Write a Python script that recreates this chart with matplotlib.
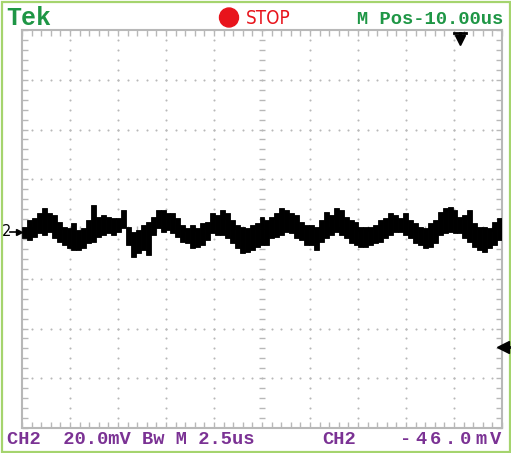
import numpy as np
import matplotlib
matplotlib.use("Agg")
import matplotlib.pyplot as plt
from matplotlib.patches import Circle, Rectangle
from matplotlib.ticker import MultipleLocator

trace_hi = [0.8, 3.6, 4.4, 6.4, 8.4, 6.4, 5.6, 2.8, 0.8, 0.4, 2.4, -0.4, 0.4, 3.6, 9.6, 4.8, 5.6, 4.8, 4.4, 4.4, 7.6, 0.8, -1.2, -0.4, 1.6,
            2.8, 4.8, 7.6, 7.6, 6.4, 6.4, 4.4, 1.6, 0.4, 1.6, 0.4, 2.4, 2.8, 6.4, 5.6, 7.6, 6.4, 3.6, 1.6, 0.8, 0.4, 1.6, 2.4, 4.8,
            3.6, 4.8, 6.4, 8.4, 7.6, 6.4, 5.6, 2.8, 1.6, 1.6, 0.8, 3.6, 6.8, 5.6, 8.4, 7.6, 4.8, 3.6, 2.8, 0.8, 0.8, 0.8, 1.6, 3.6,
            4.4, 6.4, 5.6, 4.4, 6.4, 3.6, 2.4, 0.8, 0.4, 2.4, 3.6, 6.8, 8.4, 8.8, 7.6, 4.8, 5.6, 7.6, 2.4, 0.8, 0.8, 0.4, 2.8, 4.4]
trace_lo = [-3.6, -4.4, -3.2, -1.6, -2.4, -1.2, -3.6, -5.2, -6.4, -7.6, -8.4, -8.4, -7.6, -5.6, -5.2, -3.2, -2.4, -1.6, -2.4, -1.2, 0.4, -6.4, -11.3, -9.6, -8.4,
            -10.4, -2.4, 0.4, -1.2, -0.4, -1.6, -3.2, -5.2, -5.6, -7.6, -7.2, -6.4, -4.4, -1.6, -2.4, -2.4, -3.6, -5.6, -7.6, -9.6, -9.2, -8.4, -7.2, -6.4,
            -6.4, -3.6, -3.2, -2.4, -1.2, -1.6, -3.6, -4.4, -6.4, -6.4, -8.4, -5.2, -3.6, -2.4, -1.2, -2.4, -3.6, -5.6, -6.4, -7.2, -7.2, -6.4, -5.6, -5.2,
            -3.6, -2.4, -1.2, -1.2, -2.4, -3.6, -5.6, -6.4, -7.6, -7.2, -5.6, -2.4, -1.6, -1.2, -1.6, -1.6, -3.6, -5.2, -7.2, -8.4, -9.2, -7.6, -6.4, -4.4]

volts_div = 20.0   # mV/div
time_div = 2.5     # us/div
n_hdiv, n_vdiv = 10, 8

top_left = "Tek"
top_right = "M Pos-10.00us"
status = "STOP"
bottom_left = "CH2  20.0mV Bw M 2.5us"
bottom_ch = "CH2"
bottom_val = "-46.0mV"

green = "#1e9645"
purple = "#7b3294"
red = "#e8141c"
grat = "#b8b8b8"
mono = "Liberation Mono"

W, H = 511, 453
fig = plt.figure(figsize=(W / 100, H / 100), dpi=100)
fig.patch.set_facecolor("white")

# graticule area
gx0, gx1, gy0, gy1 = 22, 502, 30, 428
ax = fig.add_axes([gx0 / W, 1 - gy1 / H, (gx1 - gx0) / W, (gy1 - gy0) / H])
xmax = n_hdiv * time_div
ymax = n_vdiv / 2 * volts_div
ax.set_xlim(0, xmax)
ax.set_ylim(-ymax, ymax)

for s in ax.spines.values():
    s.set_color(grat)
    s.set_linewidth(1.5)
ax.xaxis.set_major_locator(MultipleLocator(time_div))
ax.xaxis.set_minor_locator(MultipleLocator(time_div / 5))
ax.yaxis.set_major_locator(MultipleLocator(volts_div))
ax.yaxis.set_minor_locator(MultipleLocator(volts_div / 5))
ax.tick_params(which="both", direction="in", length=4, width=1, color=grat,
               top=True, right=True, labelbottom=False, labelleft=False)

# dotted division lines
minor_x = np.arange(0, xmax + 1e-9, time_div / 5)
minor_y = np.arange(-ymax, ymax + 1e-9, volts_div / 5)
for i in range(1, n_hdiv):
    xv = i * time_div
    if i == n_hdiv // 2:
        ax.plot(np.full(minor_y.size, xv), minor_y, ls="none", marker="_",
                ms=5, mew=1, color=grat, zorder=1)
    else:
        ax.plot(np.full(minor_y.size, xv), minor_y, ls="none", marker="o",
                ms=1.5, mew=0, color=grat, zorder=1)
for j in range(1, n_vdiv):
    yv = -ymax + j * volts_div
    if j == n_vdiv // 2:
        ax.plot(minor_x, np.full(minor_x.size, yv), ls="none", marker="|",
                ms=5, mew=1, color=grat, zorder=1)
    else:
        ax.plot(minor_x, np.full(minor_x.size, yv), ls="none", marker="o",
                ms=1.5, mew=0, color=grat, zorder=1)

# the trace
hi = np.array(trace_hi)
lo = np.array(trace_lo)
dt = xmax / len(hi)
t = (np.arange(len(hi)) + 0.5) * dt
ax.bar(t, hi - lo, bottom=lo, width=dt, color="black", edgecolor="black",
       linewidth=0.6, zorder=3)

# overlay in pixel coordinates for the scope annotations
ov = fig.add_axes([0, 0, 1, 1], zorder=5)
ov.set_xlim(0, W)
ov.set_ylim(H, 0)
ov.axis("off")
ov.patch.set_alpha(0)

ov.add_patch(Rectangle((1.5, 1.5), W - 3, H - 3, fill=False, edgecolor="#a5d46e", lw=1.6))

ov.text(6, 18, top_left, color=green, fontsize=18, fontweight="bold", family=mono, va="center")
ov.add_patch(Circle((229, 17.5), 9.5, color=red))
ov.text(246, 18, status, color=red, fontsize=13.5, family="DejaVu Sans",
        fontstretch="condensed", va="center")
ov.text(503, 19, top_right, color=green, fontsize=13.5, fontweight="bold", family=mono,
        ha="right", va="center")

ov.text(7, 440, bottom_left, color=purple, fontsize=13.5, fontweight="bold", family=mono, va="center")
ov.text(322, 440, bottom_ch, color=purple, fontsize=13.5, fontweight="bold", family=mono, va="center")
for k, ch in enumerate(bottom_val):
    ov.text(400 + 15 * k, 440, ch, color=purple, fontsize=13.5, fontweight="bold", family=mono, va="center")

# channel 2 ground marker
ov.text(2, 232, "2", color="black", fontsize=10.5, va="center")
ov.plot([10, 17], [232, 232], color="black", lw=1.2)
ov.plot([19], [232], marker=">", ms=5, color="black")

# trigger position / level markers
ov.plot([454, 466], [33, 33], color="black", lw=2)
ov.plot([460, 460], [33, 38], color="black", lw=2)
ov.plot([460], [40], marker="v", ms=7, color="black")
ov.plot([500, 509], [347, 347], color="black", lw=2)
ov.plot([503], [347], marker="<", ms=8, color="black")

fig.savefig("out.png", dpi=100, facecolor="white")
